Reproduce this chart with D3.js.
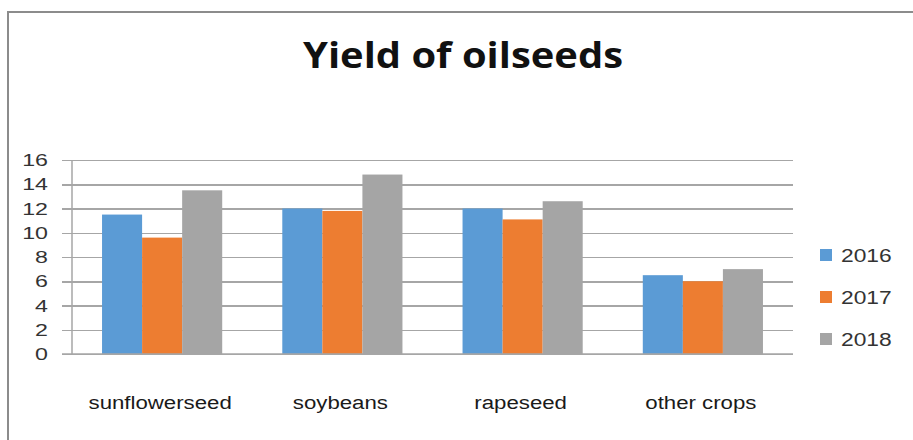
<!DOCTYPE html>
<html>
<head>
<meta charset="utf-8">
<script src="https://cdn.jsdelivr.net/npm/d3@7/dist/d3.min.js"></script>
<style>
  html, body { margin: 0; padding: 0; background: #fff; }
  svg { display: block; }
</style>
</head>
<body>
<svg id="chart" width="913" height="440"></svg>
<script>
// Oilseed yields by crop and year
const categories = ["sunflowerseed", "soybeans", "rapeseed", "other crops"];
const years = ["2016", "2017", "2018"];
const values2016 = [11.5, 12.0, 12.0, 6.5];
const values2017 = [9.6, 11.8, 11.1, 6.0];
const values2018 = [13.5, 14.8, 12.6, 7.0];
const yTicks = [0, 2, 4, 6, 8, 10, 12, 14, 16];
const title = "Yield of oilseeds";

const seriesValues = [values2016, values2017, values2018];
const colors = ["#5b9bd5", "#ed7d31", "#a5a5a5"];

const svg = d3.select("#chart");

// frame around the chart area
svg.append("path")
  .attr("d", "M8,440 L8,12 L913,12")
  .attr("fill", "none")
  .attr("stroke", "#8c8c8c")
  .attr("stroke-width", 2);

const plot = { left: 72, right: 793, top: 160, bottom: 354 };

const y = d3.scaleLinear().domain([0, 16]).range([plot.bottom, plot.top]);
const x0 = d3.scaleBand().domain(categories)
  .range([plot.left, plot.right])
  .paddingInner(1 / 3).paddingOuter(1 / 6);
const x1 = d3.scaleBand().domain(years).range([0, x0.bandwidth()]).padding(0);

// gridlines with short tick stubs left of the axis
const grid = d3.axisLeft(y).tickValues(yTicks)
  .tickSize(-(plot.right - plot.left + 10)).tickFormat("");
svg.append("g")
  .attr("transform", `translate(${plot.left - 10},0)`)
  .call(grid)
  .call(g => g.select(".domain").remove())
  .call(g => g.selectAll("line").attr("stroke", "#a6a6a6").attr("stroke-width", 1.5)
    .attr("shape-rendering", "crispEdges"));

// vertical axis line
svg.append("line")
  .attr("x1", plot.left).attr("x2", plot.left)
  .attr("y1", y(16)).attr("y2", y(0))
  .attr("stroke", "#a6a6a6").attr("stroke-width", 1.5);

// tick labels (wide, horizontally stretched digits)
svg.append("g").selectAll("text")
  .data(yTicks).join("text")
  .attr("transform", d => `translate(48,${y(d) + 6}) scale(1.45,1)`)
  .attr("text-anchor", "end")
  .attr("font-family", "Liberation Sans, Arial, sans-serif")
  .attr("font-size", 16)
  .attr("fill", "#333")
  .text(d => d);

// bars
const groups = svg.append("g").selectAll("g")
  .data(categories).join("g")
  .attr("transform", d => `translate(${x0(d)},0)`);

groups.selectAll("rect")
  .data((c, i) => years.map((yr, s) => ({ yr, s, v: seriesValues[s][i] })))
  .join("rect")
  .attr("x", d => x1(d.yr))
  .attr("width", x1.bandwidth())
  .attr("y", d => y(d.v))
  .attr("height", d => y(0) - y(d.v))
  .attr("fill", d => colors[d.s]);

// bottom baseline drawn over the bars
svg.append("line")
  .attr("x1", plot.left - 10).attr("x2", plot.right)
  .attr("y1", y(0)).attr("y2", y(0))
  .attr("stroke", "#a6a6a6").attr("stroke-width", 1.5);

// category labels
svg.append("g").selectAll("text")
  .data(categories).join("text")
  .attr("transform", d => `translate(${x0(d) + x0.bandwidth() / 2 - 2},409) scale(1.17,1)`)
  .attr("text-anchor", "middle")
  .attr("font-family", "Liberation Sans, Arial, sans-serif")
  .attr("font-size", 19)
  .attr("fill", "#1a1a1a")
  .text(d => d);

// legend
const legend = svg.append("g").selectAll("g")
  .data(years).join("g")
  .attr("transform", (d, i) => `translate(820,${255 + i * 42})`);
legend.append("rect")
  .attr("x", 0).attr("y", -6).attr("width", 12).attr("height", 12)
  .attr("fill", (d, i) => colors[i]);
legend.append("text")
  .attr("transform", "translate(21,7) scale(1.2,1)")
  .attr("font-family", "Liberation Sans, Arial, sans-serif")
  .attr("font-size", 19)
  .attr("fill", "#333")
  .text(d => d);

// title
svg.append("text")
  .attr("x", 463).attr("y", 68)
  .attr("text-anchor", "middle")
  .attr("font-family", "Open Sans, sans-serif")
  .attr("font-weight", "bold")
  .attr("font-size", 36)
  .attr("textLength", 320)
  .attr("lengthAdjust", "spacingAndGlyphs")
  .attr("fill", "#111")
  .text(title);
</script>
</body>
</html>
